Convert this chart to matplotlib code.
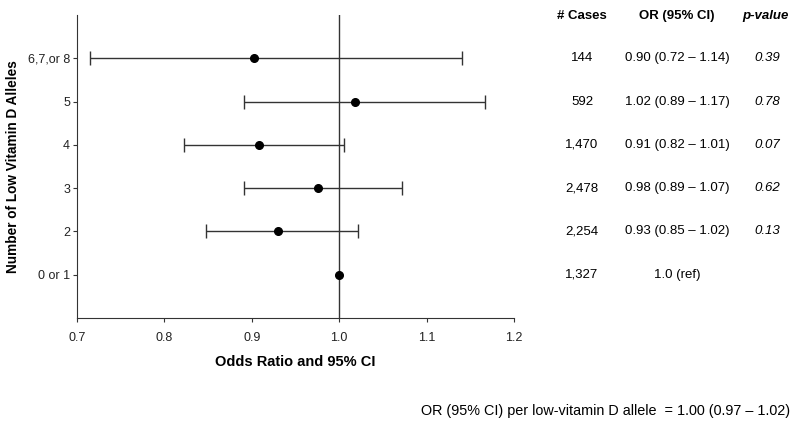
import matplotlib.pyplot as plt

plt.rcParams['font.family'] = ['Liberation Sans', 'DejaVu Sans']

grupos = ['0 or 1', '2', '3', '4', '5', '6,7,or 8']
odds = [1.00, 0.93, 0.976, 0.908, 1.018, 0.902]
ci_baixo = [None, 0.848, 0.891, 0.822, 0.891, 0.715]
ci_alto = [None, 1.022, 1.072, 1.006, 1.167, 1.140]
casos = ['1,327', '2,254', '2,478', '1,470', '592', '144']
or_texto = ['1.0 (ref)', '0.93 (0.85 \u2013 1.02)', '0.98 (0.89 \u2013 1.07)',
            '0.91 (0.82 \u2013 1.01)', '1.02 (0.89 \u2013 1.17)', '0.90 (0.72 \u2013 1.14)']
p_valores = ['', '0.13', '0.62', '0.07', '0.78', '0.39']

fig = plt.figure(figsize=(8, 4.29), dpi=100)
ax = fig.add_axes([0.09625, 0.2587, 0.54625, 0.7063])

posicoes = list(range(1, len(grupos) + 1))
for i in range(len(grupos)):
    if ci_baixo[i] is not None:
        ax.errorbar(odds[i], posicoes[i],
                    xerr=[[odds[i] - ci_baixo[i]], [ci_alto[i] - odds[i]]],
                    fmt='none', ecolor='#333333', elinewidth=1, capsize=5, capthick=1)
ax.plot(odds, posicoes, 'o', color='black', markersize=5.5, zorder=3)
ax.axvline(1.0, color='#333333', linewidth=1, zorder=1)

ax.set_xlim(0.7, 1.2)
ax.set_ylim(0, 7)
ax.set_xticks([0.7, 0.8, 0.9, 1.0, 1.1, 1.2])
ax.set_xticklabels(['0.7', '0.8', '0.9', '1.0', '1.1', '1.2'])
ax.set_yticks(posicoes)
ax.set_yticklabels(grupos)
ax.tick_params(labelsize=9, length=3, width=0.8, color='#333333', labelcolor='#222222')
ax.tick_params(axis='x', pad=7)
ax.tick_params(axis='y', pad=2)
ax.spines['top'].set_visible(False)
ax.spines['right'].set_visible(False)
for s in ['left', 'bottom']:
    ax.spines[s].set_color('#333333')
ax.set_xlabel('Odds Ratio and 95% CI', fontsize=10.5, fontweight='bold', labelpad=8)
ax.set_ylabel('Number of Low Vitamin D Alleles', fontsize=9.8, fontweight='bold')
ax.yaxis.set_label_coords(-0.130, 0.5)


def fx(px):
    return px / 800


fig.text(fx(582), 1 - 16 / 429, '# Cases', ha='center', va='center', fontsize=9.5, fontweight='bold')
fig.text(fx(677), 1 - 16 / 429, 'OR (95% CI)', ha='center', va='center', fontsize=9.5, fontweight='bold')
fig.text(fx(765), 1 - 16 / 429, 'p-value', ha='center', va='center', fontsize=9.5,
         fontweight='bold', fontstyle='italic')
for i in range(len(grupos)):
    y = posicoes[i]
    ax.annotate(casos[i], xy=(fx(582), y), xycoords=('figure fraction', 'data'),
                ha='center', va='center', fontsize=9.5, annotation_clip=False)
    ax.annotate(or_texto[i], xy=(fx(677), y), xycoords=('figure fraction', 'data'),
                ha='center', va='center', fontsize=9.5, annotation_clip=False)
    ax.annotate(p_valores[i], xy=(fx(767), y), xycoords=('figure fraction', 'data'),
                ha='center', va='center', fontsize=9.5, fontstyle='italic', annotation_clip=False)

fig.text(fx(790), 1 - 411 / 429, 'OR (95% CI) per low-vitamin D allele  = 1.00 (0.97 \u2013 1.02)',
         ha='right', va='center', fontsize=10.4)

fig.savefig('out.png', dpi=100)
